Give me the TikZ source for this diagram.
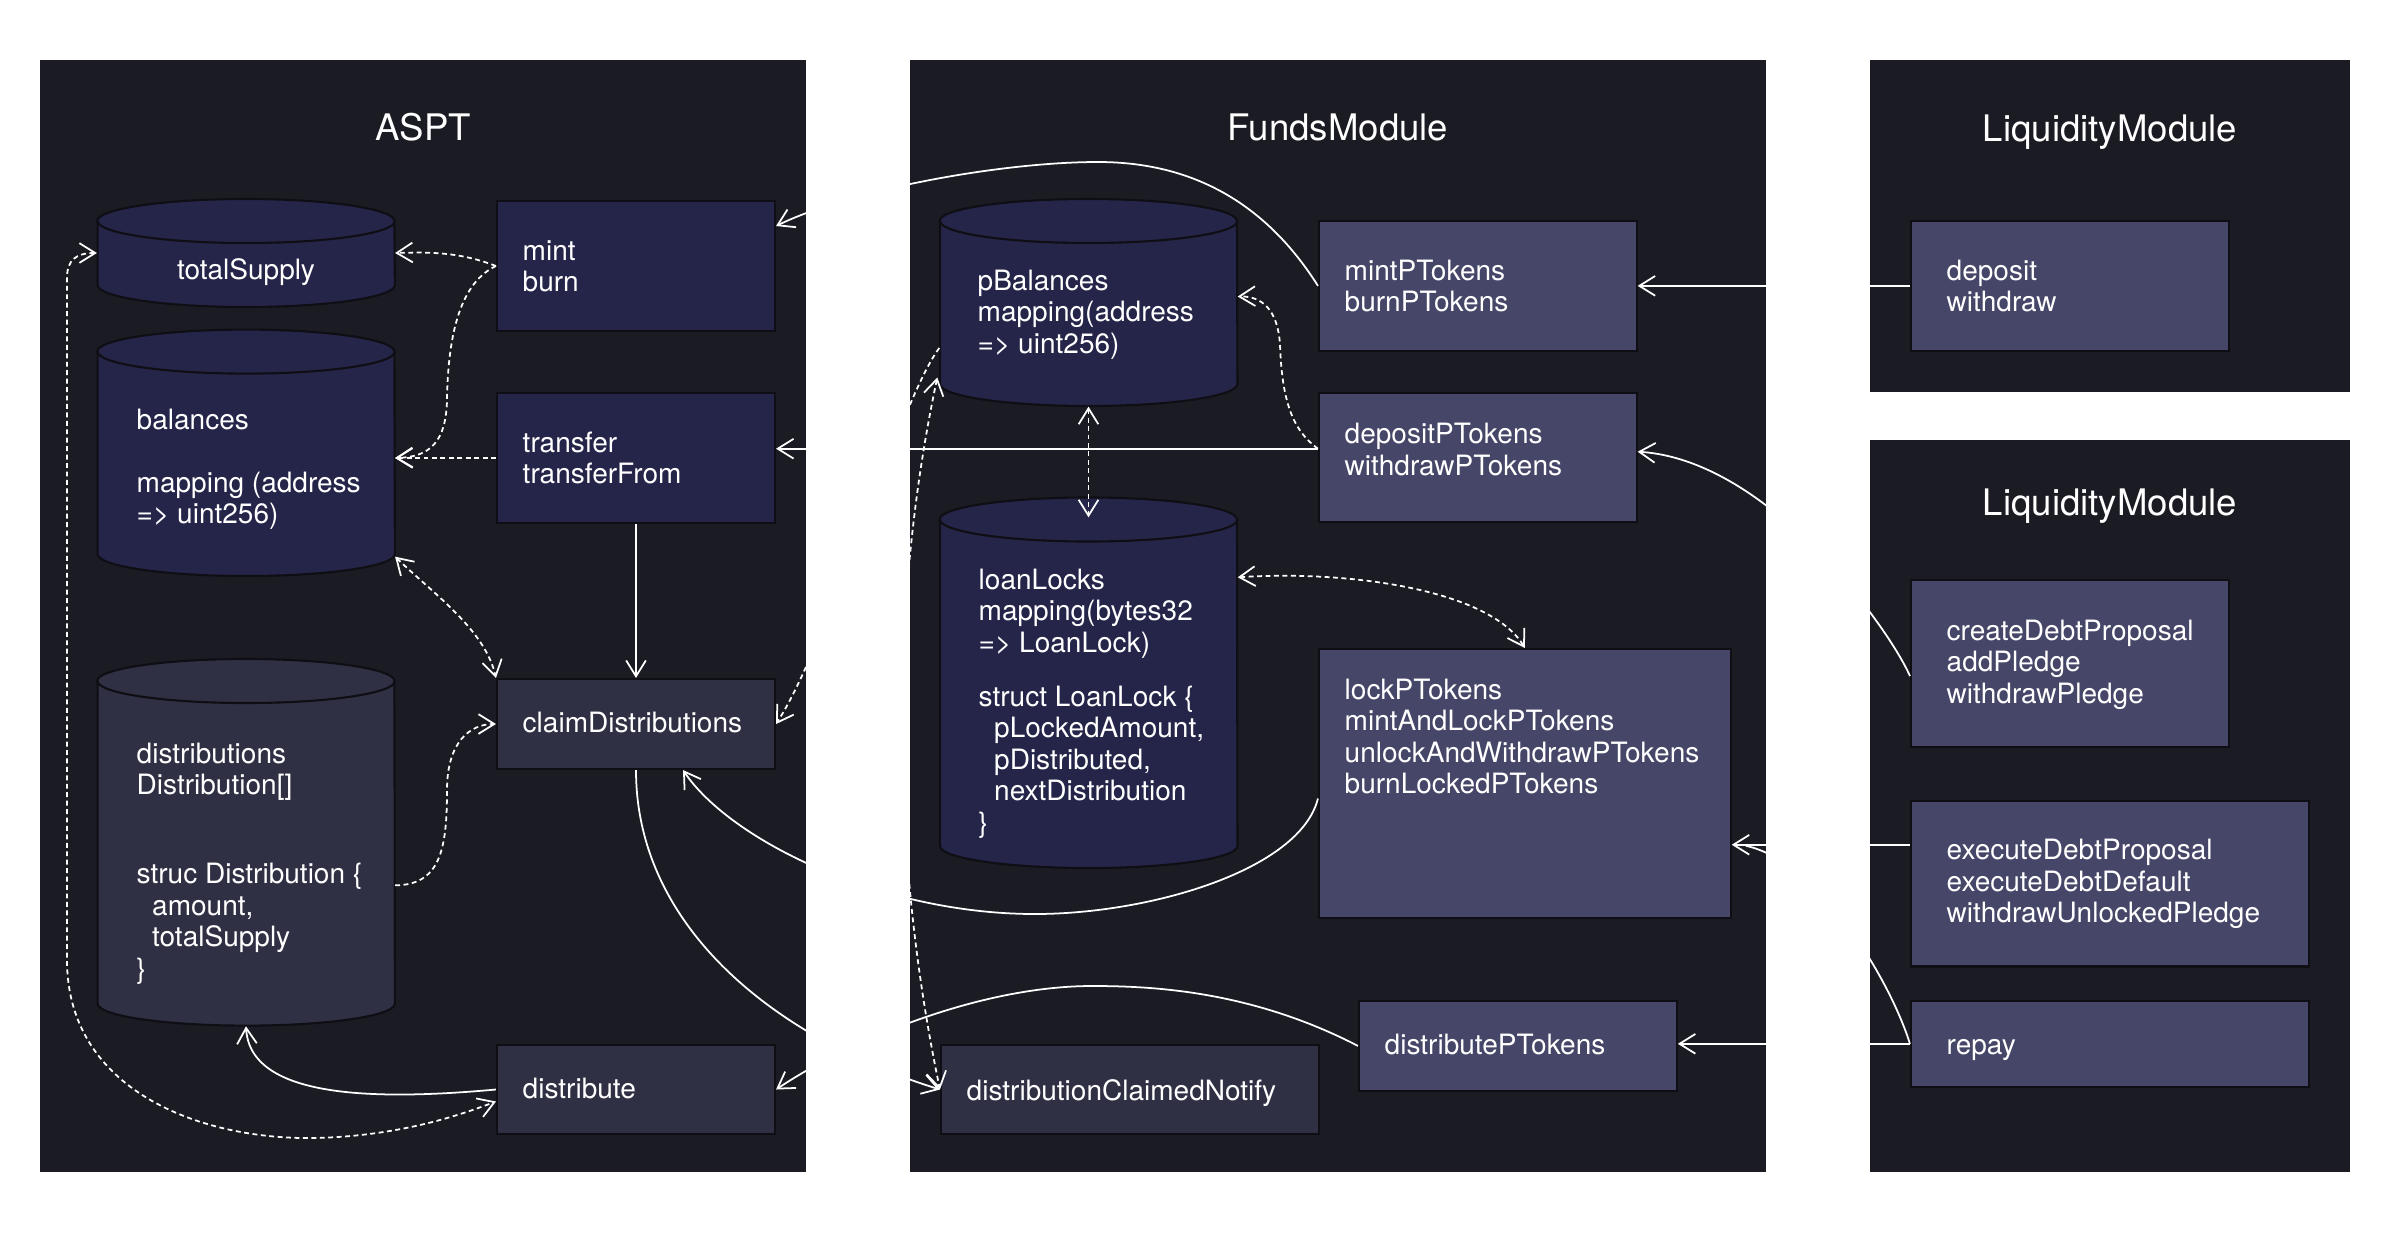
\documentclass[tikz,border=0pt]{standalone}
\usepackage{fontspec}
\setmainfont{TeX Gyre Heros}
\usetikzlibrary{arrows.meta,calc,fit}
\definecolor{panel}{HTML}{1B1B24}
\definecolor{navy}{HTML}{25254A}
\definecolor{slate}{HTML}{303045}
\definecolor{lilac}{HTML}{464668}
\definecolor{edge}{HTML}{0E0E14}
\newcommand\bfnt{\fontsize{7.97pt}{8.96pt}\selectfont}
\newcommand\ttlfnt{\fontsize{10.4pt}{12pt}\selectfont}
\newcommand\tl[1]{\begin{tabular}[t]{@{}l@{}}#1\end{tabular}}
\newcommand\ind{\hspace*{4.4pt}}
\newcommand\cyl[5]{%
  \pgfmathsetmacro\cylrx{(#2-#1)*0.005}%
  \draw[cylline,fill=#5] (#1,#3+22) -- (#1,#4-22)
    arc[start angle=180,end angle=360,x radius=\cylrx cm,y radius=0.22cm]
    -- (#2,#3+22)
    arc[start angle=0,end angle=180,x radius=\cylrx cm,y radius=0.22cm] -- cycle;
  \draw[cylline] (#1,#3+22)
    arc[start angle=180,end angle=360,x radius=\cylrx cm,y radius=0.22cm];
}
\begin{document}
\begin{tikzpicture}[x=0.01cm,y=-0.01cm,
  cylline/.style={draw=edge,line width=0.6pt},
  fbox/.style={draw=edge,line width=0.6pt,inner sep=0pt},
  anc/.style={inner sep=0pt},
  txt/.style={text=white,font=\bfnt,inner sep=0pt,anchor=base west},
  ctxt/.style={text=white,font=\bfnt,inner sep=0pt,anchor=base},
  ttl/.style={text=white,font=\ttlfnt,inner sep=0pt,anchor=base},
  sol/.style={draw=white,line width=0.5pt},
  dsh/.style={draw=white,line width=0.5pt,dash pattern=on 1.4pt off 1pt},
  arr/.style={-{Straight Barb[length=4.5pt,width=5.6pt]}},
  barr/.style={{Straight Barb[length=4.5pt,width=5.6pt]}-{Straight Barb[length=4.5pt,width=5.6pt]}}]
\path[use as bounding box,fill=white] (0,0) rectangle (2400,1248);
% panels
\fill[panel] (40,60) rectangle (806,1172);
\fill[panel] (910,60) rectangle (1766,1172);
\fill[panel] (1870,60) rectangle (2350,392);
\fill[panel] (1870,440) rectangle (2350,1172);
% titles
\node[ttl] (tA) at (423,140) {ASPT};
\node[ttl] (tF) at (1338,140) {FundsModule};
\node[ttl] (tL1) at (2110,141) {LiquidityModule};
\node[ttl] (tL2) at (2110,515) {LiquidityModule};
% cylinders
\cyl{97.6}{394.4}{199}{307}{navy}
\node[anc,fit={(97.6,199) (394.4,307)}] (ts) {};
\node[ctxt] (tsT) at (246,279) {totalSupply};
\cyl{97.6}{394.4}{329.6}{576}{navy}
\node[anc,fit={(97.6,329.6) (394.4,576)}] (bal) {};
\node[txt] (balT) at (136,429) {\tl{balances\\ \\mapping (address\\=> uint256)}};
\cyl{97.6}{394.4}{659}{1025.6}{slate}
\node[anc,fit={(97.6,659) (394.4,1025.6)}] (dist) {};
\node[txt] (distT) at (136,763) {\tl{distributions\\Distribution[]\\[16.4pt]struc Distribution \{\\\ind amount,\\\ind totalSupply\\\}}};
\cyl{940}{1237}{199}{406}{navy}
\node[anc,fit={(940,199) (1237,406)}] (pbal) {};
\node[txt] (pbalT) at (977,290) {\tl{pBalances\\mapping(address\\=> uint256)}};
\cyl{940}{1237}{497.5}{868}{navy}
\node[anc,fit={(940,497.5) (1237,868)}] (loan) {};
\node[txt] (loanT) at (978,589) {\tl{loanLocks\\mapping(bytes32\\=> LoanLock)\\[6.4pt]struct LoanLock \{\\\ind pLockedAmount,\\\ind pDistributed,\\\ind nextDistribution\\\}}};
% ASPT boxes
\node[fbox,fill=navy,fit={(497,201) (775,331)}] (mint) {};
\node[txt] (mintT) at (522,260) {\tl{mint\\burn}};
\node[fbox,fill=navy,fit={(497,393) (775,523)}] (transfer) {};
\node[txt] (transferT) at (522,452) {\tl{transfer\\transferFrom}};
\node[fbox,fill=slate,fit={(497,679) (775,769)}] (claim) {};
\node[txt] (claimT) at (522,732) {claimDistributions};
\node[fbox,fill=slate,fit={(497,1045) (775,1134)}] (distribute) {};
\node[txt] (distributeT) at (522,1098) {distribute};
% FundsModule boxes
\node[fbox,fill=lilac,fit={(1319,221) (1636.6,350.7)}] (mintP) {};
\node[txt] (mintPT) at (1344,280) {\tl{mintPTokens\\burnPTokens}};
\node[fbox,fill=lilac,fit={(1319,393) (1636.6,522.4)}] (depositP) {};
\node[txt] (depositPT) at (1344,443.6) {\tl{depositPTokens\\withdrawPTokens}};
\node[fbox,fill=lilac,fit={(1319,649) (1730.7,918)}] (lockP) {};
\node[txt] (lockPT) at (1344,699) {\tl{lockPTokens\\mintAndLockPTokens\\unlockAndWithdrawPTokens\\burnLockedPTokens}};
\node[fbox,fill=lilac,fit={(1359,1000.8) (1676.8,1091)}] (distP) {};
\node[txt] (distPT) at (1384,1054.5) {distributePTokens};
\node[fbox,fill=slate,fit={(941,1045) (1319,1134)}] (dcn) {};
\node[txt] (dcnT) at (966,1100) {distributionClaimedNotify};
% Liquidity boxes
\node[fbox,fill=lilac,fit={(1911,221) (2229,350.7)}] (lmdep) {};
\node[txt] (lmdepT) at (1946,280) {\tl{deposit\\withdraw}};
\node[fbox,fill=lilac,fit={(1911,580.4) (2229,746.7)}] (cdp) {};
\node[txt] (cdpT) at (1946,640) {\tl{createDebtProposal\\addPledge\\withdrawPledge}};
\node[fbox,fill=lilac,fit={(1911,801) (2309,966.5)}] (edp) {};
\node[txt] (edpT) at (1946,859.5) {\tl{executeDebtProposal\\executeDebtDefault\\withdrawUnlockedPledge}};
\node[fbox,fill=lilac,fit={(1911,1000.8) (2309,1086.8)}] (repay) {};
\node[txt] (repayT) at (1946,1054.5) {repay};
% ASPT internal connectors
\coordinate (balin) at (bal.east |- transfer.west);
\draw[dsh,arr] (mint.west) .. controls (460,252) and (430,252) .. (ts.east);
\draw[dsh,arr] (mint.west) .. controls (462,282) and (448,330) .. (447,400) .. controls (446,442) and (430,457) .. (balin);
\draw[dsh,arr] (transfer.west) -- (balin);
\draw[sol,arr] (transfer.south) -- (claim.north);
\draw[dsh,barr] ($(bal.south east)+(0,-20)$) .. controls (435,595) and (485,630) .. (claim.north west);
\draw[dsh,arr] ($(dist.east)+(0,43)$) .. controls (440,885) and (447,850) .. (447,790) .. controls (447,742) and (470,724) .. (claim.west);
\draw[sol,arr] (distribute.west) .. controls (380,1100) and (250,1100) .. (dist.south);
\draw[dsh,barr] (ts.west) .. controls (76,253) and (67,260) .. (67,278) -- (67,960) .. controls (67,1090) and (200,1140) .. (315,1138) .. controls (400,1136) and (460,1115) .. ($(distribute.west)+(0,12)$);
% FundsModule connectors
\draw[sol,arr] (mintP.west) .. controls (1270,210) and (1200,162) .. (1098,162) .. controls (1000,162) and (850,190) .. ($(mint.east)+(0,-40)$);
\coordinate (dpo) at ($(depositP.west)+(0,-9)$);
\draw[sol,arr] (dpo) -- (transfer.east |- dpo);
\draw[dsh,arr] (dpo) .. controls (1292,430) and (1282,400) .. (1280,345) .. controls (1278,310) and (1262,296) .. ($(pbal.east)+(0,-6)$);
\draw[dsh,barr] (pbal.south) -- ($(loan.north)+(0,20.5)$);
\draw[dsh,barr] ($(loan.north east)+(0,80.5)$) .. controls (1350,570) and (1490,590) .. (lockP.north);
\draw[sol,arr] ($(lockP.west)+(0,15)$) .. controls (1300,870) and (1150,914) .. (1035,914) .. controls (880,914) and (730,840) .. ($(claim.south)+(47,0)$);
\draw[sol,arr] (claim.south) .. controls (636,930) and (780,1040) .. (dcn.west);
\draw[dsh,arr] ($(pbal.west)+(0,45.5)$) .. controls (900,400) and (830,640) .. (claim.east);
\draw[dsh,barr] ($(pbal.west)+(-2,75)$) .. controls (890,600) and (890,850) .. (dcn.west);
\draw[sol,arr] (distP.west) .. controls (1250,990) and (1150,986) .. (1092,986) .. controls (980,986) and (850,1040) .. (distribute.east);
% Liquidity connectors
\draw[sol,arr] (lmdep.west) -- (mintP.east);
\draw[sol,arr] ($(cdp.west)+(0,12.5)$) .. controls (1890,630) and (1770,460) .. ($(depositP.east)+(0,-6)$);
\coordinate (edpo) at ($(edp.west)+(0,-39)$);
\coordinate (lkin) at (lockP.east |- edpo);
\coordinate (lkend) at ($(lkin)+(14,1)$);
\draw[sol,arr] (edpo) -- (lkin);
\draw[sol,arr] (repay.west) -- (distP.east |- repay.west);
\draw[sol] (repay.west) .. controls (1890,980) and (1820,862) .. (lkend);
\end{tikzpicture}
\end{document}
